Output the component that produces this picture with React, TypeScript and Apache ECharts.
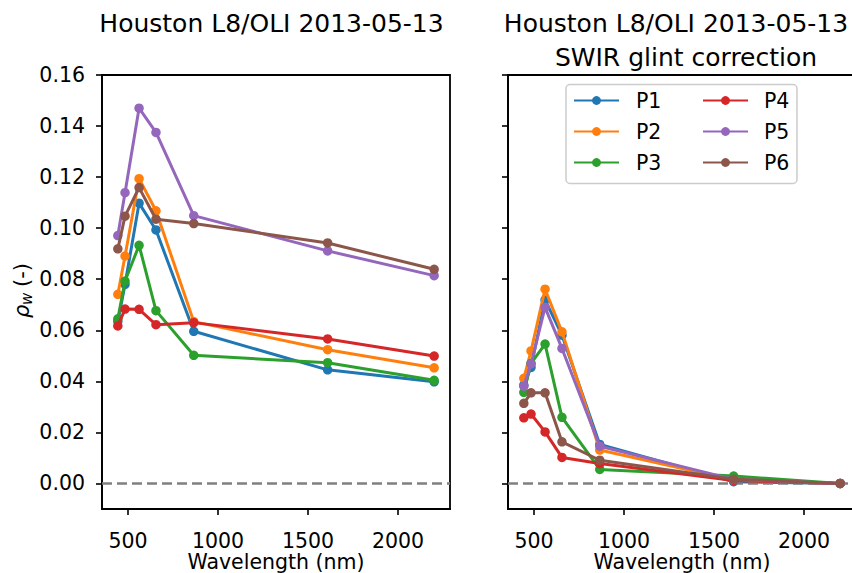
import React, { useEffect, useRef } from "react";
import * as echarts from "echarts";

// Landsat 8 / OLI band centre wavelengths (nm)
const WAVELENGTHS = [443, 483, 561, 655, 865, 1609, 2201];

// Water-leaving reflectance, no glint correction
const P1_RAW = [0.0635, 0.078, 0.1098, 0.0993, 0.0596, 0.0445, 0.0398];
const P2_RAW = [0.0741, 0.0891, 0.1194, 0.1068, 0.0634, 0.0524, 0.0453];
const P3_RAW = [0.0645, 0.0793, 0.0933, 0.0677, 0.0502, 0.0473, 0.0404];
const P4_RAW = [0.0617, 0.0683, 0.0682, 0.0622, 0.063, 0.0566, 0.0499];
const P5_RAW = [0.0971, 0.1139, 0.147, 0.1375, 0.1049, 0.0911, 0.0814];
const P6_RAW = [0.0919, 0.1047, 0.1159, 0.1035, 0.1018, 0.0942, 0.0839];

// Water-leaving reflectance after SWIR glint correction
const P1_GC = [0.0385, 0.0455, 0.0719, 0.0581, 0.0153, 0.0007, 0];
const P2_GC = [0.0412, 0.0519, 0.0761, 0.0594, 0.0131, 0.0013, 0];
const P3_GC = [0.0357, 0.047, 0.0546, 0.0259, 0.0055, 0.0029, 0];
const P4_GC = [0.0257, 0.0272, 0.0202, 0.0102, 0.0078, 0.0012, 0];
const P5_GC = [0.0381, 0.0468, 0.069, 0.0529, 0.0146, 0.0016, 0];
const P6_GC = [0.0314, 0.0355, 0.0355, 0.0163, 0.0091, 0.0017, 0];

const SERIES_NAMES = ["P1", "P2", "P3", "P4", "P5", "P6"];
const COLORS = ["#1f77b4", "#ff7f0e", "#2ca02c", "#d62728", "#9467bd", "#8c564b"];

const X_TICKS = [500, 1000, 1500, 2000];
const Y_TICKS = [0, 0.02, 0.04, 0.06, 0.08, 0.1, 0.12, 0.14, 0.16];

const TITLE_LEFT = "Houston L8/OLI 2013-05-13";
const TITLE_RIGHT_1 = "Houston L8/OLI 2013-05-13";
const TITLE_RIGHT_2 = "SWIR glint correction";
const X_NAME = "Wavelength (nm)";

const FONT = "DejaVu Sans";
const TICK_FS = 20.5;

export default function App() {
  const ref = useRef<HTMLDivElement>(null);

  useEffect(() => {
    if (!ref.current) return;
    const chart = echarts.init(ref.current, null, { renderer: "svg" });

    const panels = [
      [P1_RAW, P2_RAW, P3_RAW, P4_RAW, P5_RAW, P6_RAW],
      [P1_GC, P2_GC, P3_GC, P4_GC, P5_GC, P6_GC],
    ];

    const gridBase = {
      top: 75,
      width: 348,
      height: 434,
      show: true,
      borderColor: "#000",
      borderWidth: 1.8,
      backgroundColor: "transparent",
      containLabel: false,
      outerBoundsMode: "none",
    };

    const xAxes = [0, 1].map((i) => ({
      type: "value",
      gridIndex: i,
      min: 355,
      max: 2289,
      splitLine: { show: false },
      axisLine: { show: true, onZero: false, lineStyle: { color: "#000", width: 1.8 } },
      axisTick: {
        show: true,
        inside: false,
        length: 6,
        customValues: X_TICKS,
        lineStyle: { color: "#000", width: 1.6 },
      },
      axisLabel: {
        customValues: X_TICKS,
        formatter: (v: number) => String(v),
        color: "#000",
        fontSize: TICK_FS,
        fontFamily: FONT,
        margin: 21,
      },
      name: X_NAME,
      nameLocation: "middle",
      nameGap: 42,
      nameMoveOverlap: false,
      nameTextStyle: { color: "#000", fontSize: TICK_FS, fontFamily: FONT },
    }));

    const yAxes = [0, 1].map((i) => ({
      type: "value",
      gridIndex: i,
      min: -0.01,
      max: 0.16,
      splitLine: { show: false },
      axisLine: { show: true, onZero: false, lineStyle: { color: "#000", width: 1.8 } },
      axisTick: {
        show: true,
        inside: false,
        length: 6,
        customValues: Y_TICKS,
        lineStyle: { color: "#000", width: 1.6 },
      },
      axisLabel: {
        show: i === 0,
        customValues: Y_TICKS,
        formatter: (v: number) => v.toFixed(2),
        color: "#000",
        fontSize: TICK_FS,
        fontFamily: FONT,
        margin: 17,
      },
    }));

    const series: any[] = [];
    [0, 1].forEach((p) => {
      // horizontal zero reference
      series.push({
        type: "line",
        name: "zero",
        xAxisIndex: p,
        yAxisIndex: p,
        data: [],
        z: 1,
        silent: true,
        markLine: {
          silent: true,
          symbol: "none",
          label: { show: false },
          lineStyle: { color: "#808080", type: [10, 5], width: 2.6 },
          data: [{ yAxis: 0 }],
        },
      });
      panels[p].forEach((vals, k) => {
        series.push({
          type: "line",
          name: SERIES_NAMES[k],
          xAxisIndex: p,
          yAxisIndex: p,
          data: WAVELENGTHS.map((w, j) => [w, vals[j]]),
          symbol: "circle",
          symbolSize: 9.5,
          showSymbol: true,
          z: 2 + k,
          color: COLORS[k],
          itemStyle: { color: COLORS[k] },
          lineStyle: { color: COLORS[k], width: 3 },
        });
      });
    });

    const legendBase = {
      orient: "vertical",
      top: 90,
      padding: 0,
      itemWidth: 45,
      itemHeight: 11,
      itemGap: 10,
      selectedMode: false,
      z: 10,
    };

    const titleStyle = {
      fontSize: 25,
      fontFamily: FONT,
      fill: "#000",
      align: "center",
      verticalAlign: "middle",
    };

    chart.setOption({
      animation: false,
      backgroundColor: "#fff",
      grid: [
        { ...gridBase, left: 102 },
        { ...gridBase, left: 508 },
      ],
      xAxis: xAxes,
      yAxis: yAxes,
      legend: [
        {
          ...legendBase,
          left: 573,
          data: SERIES_NAMES.slice(0, 3),
          textStyle: {
            color: "#000",
            fontSize: TICK_FS,
            fontFamily: FONT,
            lineHeight: 21,
            padding: [0, 0, 0, 12],
          },
        },
        {
          ...legendBase,
          left: 702,
          data: SERIES_NAMES.slice(3, 6),
          textStyle: {
            color: "#000",
            fontSize: TICK_FS,
            fontFamily: FONT,
            lineHeight: 21,
            padding: [0, 0, 0, 11],
          },
        },
      ],
      graphic: [
        {
          type: "rect",
          z: 5,
          shape: { x: 566, y: 84.5, width: 231, height: 99, r: 4 },
          style: { fill: "rgba(255,255,255,0.85)", stroke: "#cccccc", lineWidth: 1.5 },
        },
        { type: "text", x: 271.5, y: 23, style: { ...titleStyle, text: TITLE_LEFT } },
        { type: "text", x: 676, y: 23, style: { ...titleStyle, text: TITLE_RIGHT_1 } },
        { type: "text", x: 686, y: 57, style: { ...titleStyle, text: TITLE_RIGHT_2 } },
        {
          // y-axis label: rho_w (-), read bottom to top
          type: "group",
          x: 22,
          y: 291,
          rotation: Math.PI / 2,
          children: [
            {
              type: "text",
              x: -27,
              y: 0,
              style: {
                text: "ρ",
                fontSize: 21,
                fontStyle: "italic",
                fontFamily: FONT,
                fill: "#000",
                align: "left",
                verticalAlign: "middle",
              },
            },
            {
              type: "text",
              x: -14,
              y: 5,
              style: {
                text: "w",
                fontSize: 15,
                fontStyle: "italic",
                fontFamily: FONT,
                fill: "#000",
                align: "left",
                verticalAlign: "middle",
              },
            },
            {
              type: "text",
              x: 4,
              y: 0,
              style: {
                text: "(-)",
                fontSize: 21,
                fontFamily: FONT,
                fill: "#000",
                align: "left",
                verticalAlign: "middle",
              },
            },
          ],
        },
      ],
      series,
    });

    return () => chart.dispose();
  }, []);

  return (
    <div
      ref={ref}
      style={{ position: "fixed", left: 0, top: 0, width: 852, height: 573 }}
    />
  );
}
